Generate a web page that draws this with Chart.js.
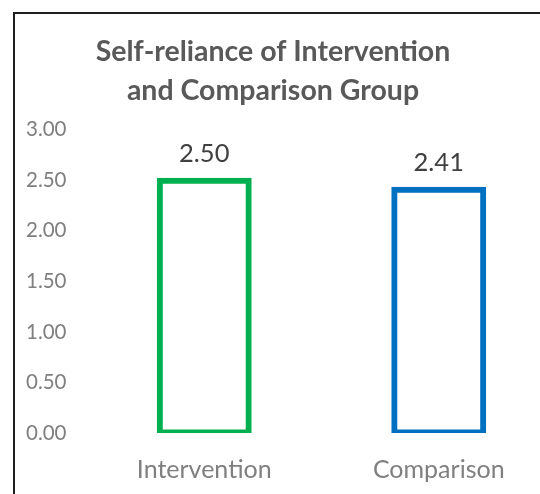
<!DOCTYPE html>
<html>
<head>
<meta charset="utf-8">
<script src="https://cdn.jsdelivr.net/npm/chart.js@4/dist/chart.umd.min.js"></script>
<style>
  html, body { margin: 0; padding: 0; background: #fff; }
  #frame { position: relative; width: 540px; height: 494px; overflow: hidden; background: #fff; }
  #edge { position: absolute; left: 13px; top: 12px; width: 600px; height: 600px;
          border-left: 2px solid #1e1e1e; border-top: 2px solid #1e1e1e; }
  #wrap { position: absolute; left: -10px; top: 0; width: 566px; height: 494px; }
</style>
</head>
<body>
<div id="frame">
  <div id="edge"></div>
  <div id="wrap"><canvas id="chart"></canvas></div>
</div>
<script>
// Mean self-reliance score per group
const categories = ['Intervention', 'Comparison'];
const selfReliance = [2.50, 2.41];
const barColors = ['#00B050', '#0070C0'];
const titleLines = ['Self-reliance of Intervention', 'and Comparison Group'];
const yMin = 0, yMax = 3, yStep = 0.5;

// Writes the value above each bar
const valueLabels = {
  id: 'valueLabels',
  afterDatasetsDraw(chart) {
    const ctx = chart.ctx;
    const meta = chart.getDatasetMeta(0);
    ctx.save();
    ctx.font = '25.5px Lato';
    ctx.fillStyle = '#404040';
    ctx.textAlign = 'center';
    ctx.textBaseline = 'alphabetic';
    meta.data.forEach((bar, i) => {
      ctx.fillText(selfReliance[i].toFixed(2), bar.x, bar.y - 18.5);
    });
    ctx.restore();
  }
};

new Chart(document.getElementById('chart'), {
  type: 'bar',
  data: {
    labels: categories,
    datasets: [{
      data: selfReliance,
      backgroundColor: 'rgba(0,0,0,0)',
      borderColor: barColors,
      borderWidth: 1,
      inflateAmount: 2.5,
      borderSkipped: false,
      categoryPercentage: 1,
      barPercentage: 0.3835
    }]
  },
  options: {
    responsive: true,
    maintainAspectRatio: false,
    animation: false,
    layout: { padding: 0 },
    plugins: {
      legend: { display: false },
      tooltip: { enabled: false },
      title: {
        display: true,
        text: titleLines,
        color: '#595959',
        font: { family: 'Lato', size: 28.5, weight: 'bold', lineHeight: 39 / 28.5 },
        padding: { top: 32.7, bottom: 19 }
      }
    },
    scales: {
      x: {
        grid: { display: false, drawTicks: false },
        border: { display: false },
        ticks: { color: '#7f7f7f', font: { family: 'Lato', size: 25 }, padding: 21.5 },
        afterFit(scale) { scale.height = 61; }
      },
      y: {
        min: yMin,
        max: yMax,
        grid: { display: false, drawTicks: false },
        border: { display: false },
        ticks: {
          stepSize: yStep,
          color: '#7f7f7f',
          font: { family: 'Lato', size: 20.5 },
          padding: 20.5,
          callback: v => Number(v).toFixed(2)
        },
        afterFit(scale) { scale.width = 97; }
      }
    }
  },
  plugins: [valueLabels]
});
</script>
</body>
</html>
